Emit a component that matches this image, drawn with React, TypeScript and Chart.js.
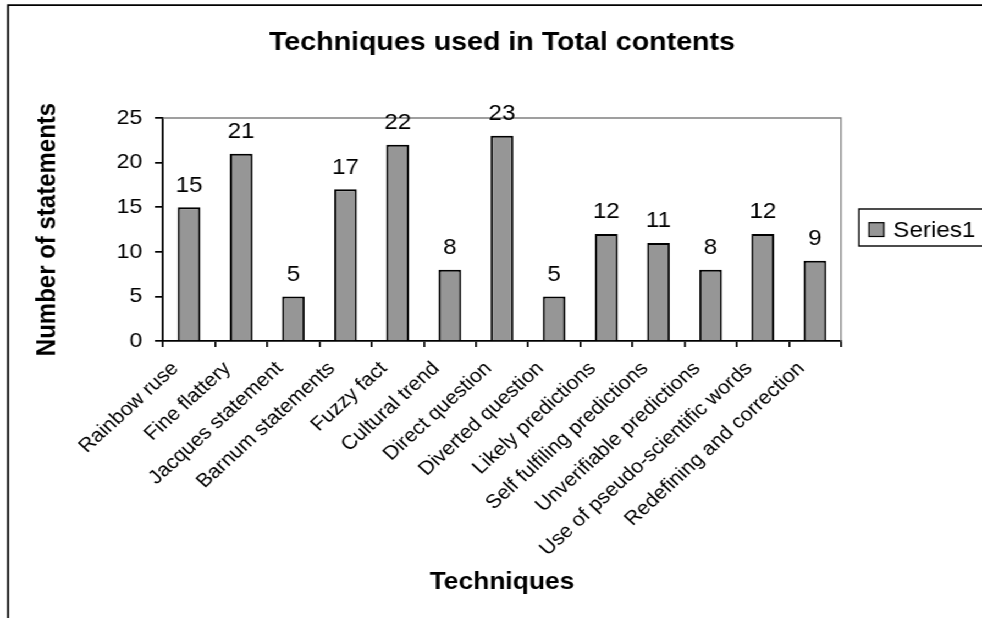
import React, { useEffect, useRef } from "react";
import { Chart, registerables } from "chart.js";

Chart.register(...registerables);

// ---- data ----
const categories = [
  "Rainbow ruse",
  "Fine flattery",
  "Jacques statement",
  "Barnum statements",
  "Fuzzy fact",
  "Cultural trend",
  "Direct question",
  "Diverted question",
  "Likely predictions",
  "Self fulfiling predictions",
  "Unverifiable predictions",
  "Use of pseudo-scientific words",
  "Redefining and correction",
];
const series1 = [15, 21, 5, 17, 22, 8, 23, 5, 12, 11, 8, 12, 9];
const yTicks = [0, 5, 10, 15, 20, 25];
const seriesName = "Series1";
const chartTitle = "Techniques used in Total contents";
const xTitle = "Techniques";
const yTitle = "Number of statements";

// ---- drawing constants ----
const W = 893;
const H = 618;
const STRETCH = 982 / W;
const FONT = "'Liberation Sans', Arial, Helvetica, sans-serif";
const BAR_FILL = "#969696";

// outer frame: top and left edges of the sheet
const framePlugin = {
  id: "frame",
  afterDraw(chart: any) {
    const ctx = chart.ctx;
    ctx.save();
    ctx.strokeStyle = "#000";
    ctx.lineWidth = 1.8;
    ctx.beginPath();
    ctx.moveTo(7.3, H + 2);
    ctx.lineTo(7.3, 5.2);
    ctx.lineTo(W + 2, 5.2);
    ctx.stroke();
    ctx.restore();
  },
};

// grey top/right border of the plot area
const plotBorderPlugin = {
  id: "plotBorder",
  beforeDatasetsDraw(chart: any) {
    const { ctx, chartArea } = chart;
    ctx.save();
    ctx.strokeStyle = "#808080";
    ctx.lineWidth = 1.3;
    ctx.beginPath();
    ctx.moveTo(chartArea.left, chartArea.top);
    ctx.lineTo(chartArea.right, chartArea.top);
    ctx.lineTo(chartArea.right, chartArea.bottom);
    ctx.stroke();
    ctx.restore();
  },
};

// value labels above each bar
const valueLabelPlugin = {
  id: "valueLabels",
  afterDatasetsDraw(chart: any) {
    const { ctx } = chart;
    const meta = chart.getDatasetMeta(0);
    const values = chart.data.datasets[0].data as number[];
    ctx.save();
    ctx.fillStyle = "#000";
    ctx.font = `22px ${FONT}`;
    ctx.textAlign = "center";
    ctx.textBaseline = "alphabetic";
    meta.data.forEach((bar: any, i: number) => {
      ctx.fillText(String(values[i]), bar.x, bar.y - 15.5);
    });
    ctx.restore();
  },
};

// boxed legend on the right
const legendBoxPlugin = {
  id: "legendBox",
  afterDraw(chart: any) {
    const { ctx } = chart;
    const label = chart.data.datasets[0].label;
    ctx.save();
    ctx.strokeStyle = "#000";
    ctx.lineWidth = 1.4;
    ctx.strokeRect(781.1, 209, 130, 37);
    ctx.fillStyle = BAR_FILL;
    ctx.fillRect(790.2, 222.7, 13.6, 13.8);
    ctx.lineWidth = 1.2;
    ctx.strokeRect(790.2, 222.7, 13.6, 13.8);
    ctx.fillStyle = "#000";
    ctx.font = `22px ${FONT}`;
    ctx.textAlign = "left";
    ctx.textBaseline = "alphabetic";
    ctx.fillText(label, 812.3, 237.3);
    ctx.restore();
  },
};

export default function App() {
  const canvasRef = useRef<HTMLCanvasElement>(null);

  useEffect(() => {
    const canvas = canvasRef.current;
    if (!canvas) return;
    Chart.defaults.color = "#000";
    Chart.defaults.font.family = FONT;

    const chart = new Chart(canvas, {
      type: "bar",
      data: {
        labels: categories,
        datasets: [
          {
            label: seriesName,
            data: series1,
            backgroundColor: BAR_FILL,
            borderColor: "#000",
            borderWidth: 2,
            barPercentage: 0.435,
            categoryPercentage: 1,
          },
        ],
      },
      options: {
        responsive: false,
        maintainAspectRatio: false,
        animation: false,
        events: [],
        layout: { padding: { left: 0, right: 128.2, top: 0, bottom: 0 } },
        plugins: {
          legend: { display: false },
          tooltip: { enabled: false },
          title: {
            display: true,
            text: chartTitle,
            fullSize: false,
            color: "#000",
            font: { family: FONT, size: 26, weight: "bold" },
            padding: { top: 26.9, bottom: 59.9 },
          },
        },
        scales: {
          x: {
            afterFit: (s: any) => {
              s.height = 277;
            },
            ticks: {
              autoSkip: false,
              minRotation: 45,
              maxRotation: 45,
              color: "#000",
              font: { family: FONT, size: 19.5 },
              padding: 10.2,
              labelOffset: -12.5,
            },
            grid: {
              offset: true,
              drawOnChartArea: false,
              drawTicks: true,
              tickLength: 6,
              color: "#000",
              lineWidth: 1.7,
            },
            border: { display: true, color: "#000", width: 1.8 },
            title: {
              display: true,
              text: xTitle,
              color: "#000",
              font: { family: FONT, size: 24, weight: "bold" },
              padding: { top: 0, bottom: 21.6 },
            },
          },
          y: {
            min: 0,
            max: 25,
            afterFit: (s: any) => {
              s.width = 148.2;
            },
            afterBuildTicks: (s: any) => {
              s.ticks = yTicks.map((v) => ({ value: v }));
            },
            ticks: {
              color: "#000",
              font: { family: FONT, size: 21 },
              padding: 11.5,
            },
            grid: {
              drawOnChartArea: false,
              drawTicks: true,
              tickLength: 7.3,
              color: "#000",
              lineWidth: 1.7,
            },
            border: { display: true, color: "#000", width: 1.8 },
            title: {
              display: true,
              text: yTitle,
              color: "#000",
              font: { family: FONT, size: 24, weight: "bold" },
              padding: { top: 29.2, bottom: 0 },
            },
          },
        },
      },
      plugins: [plotBorderPlugin, valueLabelPlugin, legendBoxPlugin, framePlugin],
    } as any);

    return () => chart.destroy();
  }, []);

  return (
    <div
      style={{
        position: "fixed",
        left: 0,
        top: 0,
        width: W,
        height: H,
        background: "#fff",
        transform: `scaleX(${STRETCH})`,
        transformOrigin: "0 0",
      }}
    >
      <canvas ref={canvasRef} width={W} height={H} style={{ display: "block" }} />
    </div>
  );
}
